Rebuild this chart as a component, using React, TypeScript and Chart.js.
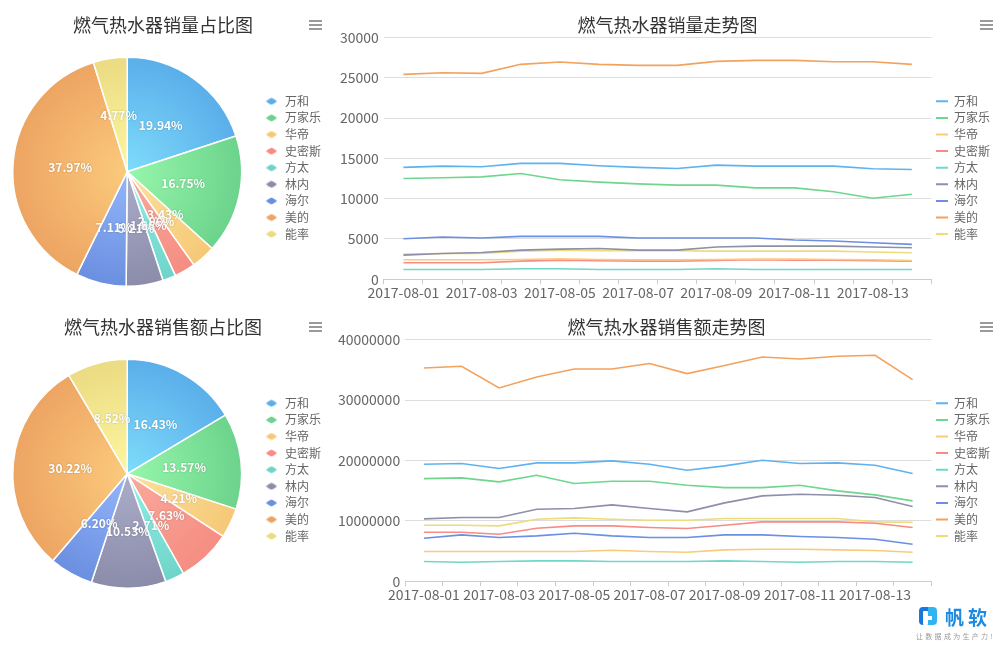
import React, { useEffect, useRef } from 'react';
import { Chart, registerables } from 'chart.js';

Chart.register(...registerables);

const FONT = '"Noto Sans CJK SC", "Noto Sans", sans-serif';

const BRANDS = ['万和', '万家乐', '华帝', '史密斯', '方太', '林内', '海尔', '美的', '能率'];
const DATES = [
  '2017-08-01', '2017-08-02', '2017-08-03', '2017-08-04', '2017-08-05', '2017-08-06', '2017-08-07',
  '2017-08-08', '2017-08-09', '2017-08-10', '2017-08-11', '2017-08-12', '2017-08-13', '2017-08-14',
];

const LINE_COLORS = ['#5fb2f0', '#6ed68d', '#f9cb7c', '#f88b83', '#72d6c9', '#8d8fab', '#6a8fe3', '#f3a25d', '#ecdc7c'];
const PIE_INNER = ['#7fdcfb', '#97f7ab', '#fbe29a', '#faa99c', '#8ef0ea', '#abadc9', '#93b6fa', '#fbca7c', '#fdf6a0'];
const PIE_OUTER = ['#5aaeea', '#6cd38c', '#f6c878', '#f58d82', '#6fd4c8', '#8a8caa', '#6b8fe0', '#eda462', '#ebdb82'];

const VOLUME_SHARE = [19.94, 16.75, 3.43, 2.96, 1.86, 5.21, 7.11, 37.97, 4.77];
const REVENUE_SHARE = [16.43, 13.57, 4.21, 7.63, 2.71, 10.53, 6.2, 30.22, 8.52];

const VOL_WANHE = [13880, 14040, 13960, 14380, 14380, 14090, 13880, 13750, 14170, 14040, 14040, 14040, 13710, 13630];
const VOL_WANJIALE = [12510, 12590, 12710, 13130, 12340, 12050, 11840, 11680, 11680, 11340, 11340, 10850, 10060, 10550];
const VOL_HUADI = [2410, 2410, 2410, 2450, 2530, 2450, 2410, 2410, 2450, 2490, 2490, 2450, 2410, 2330];
const VOL_SMITH = [2040, 2040, 2040, 2240, 2370, 2290, 2240, 2240, 2330, 2410, 2370, 2370, 2290, 2240];
const VOL_FANGTAI = [1200, 1200, 1200, 1290, 1290, 1200, 1200, 1200, 1290, 1200, 1200, 1200, 1200, 1200];
const VOL_LINNEI = [2990, 3200, 3320, 3610, 3740, 3820, 3610, 3610, 3990, 4110, 4110, 4110, 3990, 3910];
const VOL_HAIER = [5030, 5240, 5110, 5320, 5320, 5320, 5110, 5110, 5110, 5110, 4860, 4740, 4530, 4320];
const VOL_MIDEA = [25430, 25640, 25560, 26680, 26970, 26680, 26550, 26550, 27050, 27170, 27170, 27010, 27010, 26680];
const VOL_NORITZ = [3120, 3200, 3200, 3490, 3610, 3530, 3530, 3530, 3490, 3490, 3490, 3490, 3370, 3280];

const REV_WANHE = [19370000, 19480000, 18650000, 19590000, 19590000, 19920000, 19370000, 18370000, 19090000, 20030000, 19480000, 19590000, 19200000, 17820000];
const REV_WANJIALE = [16990000, 17100000, 16440000, 17540000, 16170000, 16550000, 16550000, 15890000, 15500000, 15500000, 15890000, 14950000, 14290000, 13300000];
const REV_HUADI = [4910000, 4910000, 4910000, 4910000, 4910000, 5130000, 4910000, 4800000, 5190000, 5300000, 5300000, 5190000, 5080000, 4800000];
const REV_SMITH = [8110000, 8110000, 7780000, 8770000, 9160000, 9160000, 8880000, 8720000, 9270000, 9820000, 9820000, 9820000, 9600000, 8880000];
const REV_FANGTAI = [3260000, 3140000, 3260000, 3370000, 3370000, 3260000, 3260000, 3260000, 3370000, 3260000, 3140000, 3260000, 3260000, 3140000];
const REV_LINNEI = [10320000, 10540000, 10540000, 11920000, 12030000, 12630000, 12030000, 11480000, 12970000, 14120000, 14400000, 14230000, 13850000, 12360000];
const REV_HAIER = [7120000, 7670000, 7230000, 7500000, 7940000, 7500000, 7230000, 7230000, 7670000, 7670000, 7390000, 7230000, 6950000, 6120000];
const REV_MIDEA = [35310000, 35590000, 32000000, 33820000, 35140000, 35140000, 36030000, 34370000, 35700000, 37130000, 36800000, 37240000, 37410000, 33380000];
const REV_NORITZ = [9270000, 9270000, 9160000, 10260000, 10480000, 10260000, 10100000, 10100000, 10370000, 10370000, 10370000, 10370000, 9820000, 9770000];

const VOLUME_SERIES = [VOL_WANHE, VOL_WANJIALE, VOL_HUADI, VOL_SMITH, VOL_FANGTAI, VOL_LINNEI, VOL_HAIER, VOL_MIDEA, VOL_NORITZ];
const REVENUE_SERIES = [REV_WANHE, REV_WANJIALE, REV_HUADI, REV_SMITH, REV_FANGTAI, REV_LINNEI, REV_HAIER, REV_MIDEA, REV_NORITZ];

const diamondCache: Record<string, HTMLCanvasElement> = {};
function diamond(color: string): HTMLCanvasElement {
  if (diamondCache[color]) return diamondCache[color];
  const c = document.createElement('canvas');
  c.width = 12;
  c.height = 8;
  const g = c.getContext('2d')!;
  g.fillStyle = color;
  g.beginPath();
  g.moveTo(0.5, 4);
  g.quadraticCurveTo(3, 1.5, 6, 0.5);
  g.quadraticCurveTo(9, 1.5, 11.5, 4);
  g.quadraticCurveTo(9, 6.5, 6, 7.5);
  g.quadraticCurveTo(3, 6.5, 0.5, 4);
  g.closePath();
  g.fill();
  diamondCache[color] = c;
  return c;
}

const pctLabelPlugin = {
  id: 'pctLabels',
  afterDatasetsDraw(chart: any) {
    const meta = chart.getDatasetMeta(0);
    const ctx = chart.ctx;
    const data = chart.data.datasets[0].data;
    ctx.save();
    ctx.font = `bold 12px ${FONT}`;
    ctx.fillStyle = '#ffffff';
    ctx.textAlign = 'center';
    ctx.textBaseline = 'middle';
    ctx.shadowColor = 'rgba(0,0,0,0.25)';
    ctx.shadowBlur = 2;
    meta.data.forEach((arc: any, i: number) => {
      const p = arc.getProps(['x', 'y', 'startAngle', 'endAngle', 'outerRadius'], true);
      const a = (p.startAngle + p.endAngle) / 2;
      const r = p.outerRadius * 0.5;
      ctx.fillText(Number(data[i]).toFixed(2) + '%', p.x + Math.cos(a) * r, p.y + Math.sin(a) * r);
    });
    ctx.restore();
  },
};

function pieConfig(title: string, values: number[]): any {
  return {
    type: 'pie',
    data: {
      labels: BRANDS,
      datasets: [
        {
          data: values,
          backgroundColor: (c: any) => {
            const area = c.chart.chartArea;
            const i = c.dataIndex;
            if (!area) return PIE_OUTER[i];
            const cx = (area.left + area.right) / 2;
            const cy = (area.top + area.bottom) / 2;
            const r = Math.min(area.right - area.left, area.bottom - area.top) / 2;
            const g = c.chart.ctx.createRadialGradient(cx, cy, 0, cx, cy, r);
            g.addColorStop(0, PIE_INNER[i]);
            g.addColorStop(1, PIE_OUTER[i]);
            return g;
          },
          borderColor: '#ffffff',
          borderWidth: 1.5,
        },
      ],
    },
    options: {
      responsive: false,
      animation: false,
      layout: { padding: { left: 0, right: 0, top: 0, bottom: 15 } },
      plugins: {
        title: {
          display: true,
          text: title,
          color: '#333',
          font: { size: 18, family: FONT, weight: 'normal' },
          padding: { top: 14, bottom: 21 },
        },
        legend: {
          position: 'right',
          title: { display: true, text: ' ', font: { size: 12, family: FONT }, padding: 17 },
          labels: {
            usePointStyle: true,
            pointStyleWidth: 15,
            padding: 4.6,
            color: '#666',
            font: { size: 12, family: FONT },
            generateLabels: () =>
              BRANDS.map((b, i) => ({
                text: b,
                fillStyle: PIE_OUTER[i],
                strokeStyle: PIE_OUTER[i],
                lineWidth: 0,
                pointStyle: diamond(PIE_OUTER[i]),
                hidden: false,
                index: i,
                fontColor: '#666',
              })),
          },
        },
        tooltip: { enabled: false },
      },
    },
    plugins: [pctLabelPlugin],
  };
}

function lineConfig(title: string, series: number[][], max: number, step: number, padLeft: number): any {
  return {
    type: 'line',
    data: {
      labels: DATES,
      datasets: series.map((s, i) => ({
        label: BRANDS[i],
        data: s,
        borderColor: LINE_COLORS[i],
        backgroundColor: LINE_COLORS[i],
        borderWidth: 1.6,
        pointRadius: 0,
        tension: 0,
        fill: false,
      })),
    },
    options: {
      responsive: false,
      animation: false,
      layout: { padding: { left: padLeft, right: 0, top: 0, bottom: 1 } },
      scales: {
        x: {
          offset: true,
          grid: { offset: true, drawOnChartArea: false, drawTicks: true, tickLength: 5, color: '#ccc' },
          border: { color: '#ccc' },
          ticks: {
            autoSkip: false,
            maxRotation: 0,
            minRotation: 0,
            padding: 0,
            color: '#666',
            font: { size: 14, family: FONT },
            callback: (_v: any, i: number) => (i % 2 === 0 ? DATES[i] : ''),
          },
        },
        y: {
          min: 0,
          max,
          ticks: { stepSize: step, color: '#666', padding: 5, font: { size: 14, family: FONT }, callback: (v: any) => String(v) },
          grid: { color: '#dddddd', drawTicks: false },
          border: { display: false },
        },
      },
      plugins: {
        title: {
          display: true,
          text: title,
          color: '#333',
          font: { size: 18, family: FONT, weight: 'normal' },
          padding: { top: 14, bottom: 2 },
        },
        legend: {
          position: 'right',
          title: { display: true, text: ' ', font: { size: 12, family: FONT }, padding: 10 },
          labels: {
            boxWidth: 12,
            boxHeight: 2,
            padding: 4.6,
            color: '#666',
            font: { size: 12, family: FONT },
            generateLabels: (chart: any) =>
              chart.data.datasets.map((ds: any, i: number) => ({
                text: ds.label,
                fillStyle: ds.borderColor,
                strokeStyle: ds.borderColor,
                lineWidth: 0,
                hidden: false,
                datasetIndex: i,
                fontColor: '#666',
              })),
          },
        },
        tooltip: { enabled: false },
      },
    },
  };
}

function ChartCanvas({ left, top, width, height, build }: { left: number; top: number; width: number; height: number; build: () => any }) {
  const ref = useRef<HTMLCanvasElement | null>(null);
  useEffect(() => {
    if (!ref.current) return;
    const chart = new Chart(ref.current, build());
    return () => chart.destroy();
  }, []);
  return <canvas ref={ref} width={width} height={height} style={{ position: 'absolute', left, top, width, height }} />;
}

function Menu({ left, top }: { left: number; top: number }) {
  const bar = (y: number) => (
    <div style={{ position: 'absolute', left: 0, top: y, width: 13, height: 2, background: '#9a9a9a' }} />
  );
  return (
    <div style={{ position: 'absolute', left, top, width: 13, height: 11 }}>
      {bar(0)}
      {bar(4)}
      {bar(8)}
    </div>
  );
}

function Logo() {
  return (
    <div style={{ position: 'absolute', left: 914, top: 603, width: 86, height: 40 }}>
      <div style={{ position: 'absolute', left: 5, top: 4, width: 18, height: 18, borderRadius: 4, background: 'linear-gradient(90deg,#1a78dc 0%,#1a78dc 50%,#33b4f2 50%,#33b4f2 100%)' }} />
      <div style={{ position: 'absolute', left: 9, top: 8, width: 5, height: 14, background: '#fff', borderRadius: 1 }} />
      <div style={{ position: 'absolute', left: 14, top: 13, width: 4, height: 4, background: '#fff' }} />
      <div style={{ position: 'absolute', left: 31, top: 4, fontFamily: FONT, fontWeight: 'bold', fontSize: 19, lineHeight: '19px', color: '#1b8ae0', letterSpacing: 4, whiteSpace: 'nowrap' }}>帆软</div>
      <div style={{ position: 'absolute', left: 2, top: 29, fontFamily: FONT, fontSize: 7, lineHeight: '8px', color: '#9a9a9a', letterSpacing: 2.3, whiteSpace: 'nowrap' }}>让数据成为生产力!</div>
    </div>
  );
}

export default function App() {
  useEffect(() => {
    document.body.style.margin = '0';
  }, []);
  return (
    <div style={{ position: 'absolute', left: 0, top: 0, width: 1000, height: 646, background: '#fff', overflow: 'hidden' }}>
      <ChartCanvas left={-5} top={0} width={336} height={302} build={() => pieConfig('燃气热水器销量占比图', VOLUME_SHARE)} />
      <ChartCanvas left={330} top={0} width={670} height={302} build={() => lineConfig('燃气热水器销量走势图', VOLUME_SERIES, 30000, 5000, 5)} />
      <ChartCanvas left={-5} top={302} width={336} height={302} build={() => pieConfig('燃气热水器销售额占比图', REVENUE_SHARE)} />
      <ChartCanvas left={330} top={302} width={670} height={302} build={() => lineConfig('燃气热水器销售额走势图', REVENUE_SERIES, 40000000, 10000000, 3)} />
      <Menu left={309} top={20} />
      <Menu left={980} top={20} />
      <Menu left={309} top={322} />
      <Menu left={980} top={322} />
      <Logo />
    </div>
  );
}
